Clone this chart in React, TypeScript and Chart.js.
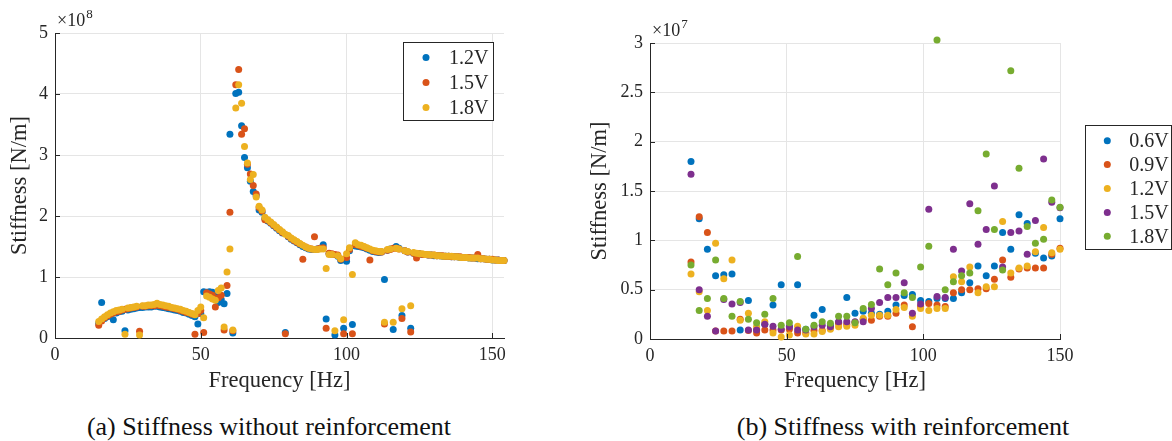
import React, { useEffect, useRef } from "react";
import { Chart, registerables } from "chart.js";

Chart.register(...registerables);

const FONT = '"Liberation Serif", "Times New Roman", serif';
const INK = "#262626";
const GRID = "#e5e5e5";

const C_BLUE = "#0072BD";
const C_RED = "#D95319";
const C_YELLOW = "#EDB120";
const C_PURPLE = "#7E2F8E";
const C_GREEN = "#77AC30";

// ---------------- (a) without reinforcement, stiffness in units of 1e8 N/m
const freqA = [
  15, 16, 17, 18, 19, 20, 21, 22, 23, 24, 25, 26, 27, 28, 29, 30, 31, 32, 33, 34,
  35, 36, 37, 38, 39, 40, 41, 42, 43, 44, 45, 46, 47, 48, 49, 50, 51, 52, 53, 54,
  55, 56, 57, 58, 59, 60, 61, 62, 63, 64, 65, 66, 67, 68, 69, 70, 71, 72, 73, 74,
  75, 76, 77, 78, 79, 80, 81, 82, 83, 84, 85, 86, 87, 88, 89, 90, 91, 92, 93, 94,
  95, 96, 97, 98, 99, 100, 101, 102, 103, 104, 105, 106, 107, 108, 109, 110, 111, 112, 113, 114,
  115, 116, 117, 118, 119, 120, 121, 122, 123, 124, 125, 126, 127, 128, 129, 130, 131, 132, 133, 134,
  135, 136, 137, 138, 139, 140, 141, 142, 143, 144, 145, 146, 147, 148, 149, 150, 151, 152, 153, 154,
];

const stiffA_12V = [
  0.24, 0.58, 0.32, 0.35, 0.38, 0.30, 0.41, 0.43, 0.44, 0.12,
  0.46, 0.47, 0.48, 0.49, 0.50, 0.50, 0.51, 0.51, 0.51, 0.52,
  0.52, 0.51, 0.50, 0.49, 0.48, 0.47, 0.46, 0.45, 0.44, 0.42,
  0.41, 0.39, 0.37, 0.35, 0.23, 0.40, 0.76, 0.75, 0.76, 0.75,
  0.68, 0.58, 0.63, 0.56, 0.73, 3.34, 0.08, 4.01, 4.03, 3.48,
  2.96, 2.79, 2.57, 2.40, 2.33, 2.10, 2.06, 1.96, 1.92, 1.88,
  1.84, 1.80, 1.76, 1.72, 0.09, 1.66, 1.62, 1.59, 1.56, 1.53,
  1.50, 1.48, 1.46, 1.45, 1.45, 1.46, 1.47, 1.53, 0.31, 1.38,
  1.37, 0.05, 1.34, 1.27, 0.16, 1.26, 1.43, 0.22, 1.51, 1.50,
  1.49, 1.48, 1.46, 1.44, 1.42, 1.41, 1.40, 1.41, 0.96, 1.44,
  1.46, 0.14, 1.50, 1.47, 0.37, 1.43, 1.41, 0.16, 1.39, 1.38,
  1.38, 1.37, 1.37, 1.36, 1.36, 1.35, 1.35, 1.35, 1.34, 1.34,
  1.34, 1.33, 1.33, 1.33, 1.32, 1.32, 1.32, 1.31, 1.31, 1.31,
  1.30, 1.30, 1.30, 1.29, 1.29, 1.28, 1.28, 1.28, 1.27, 1.27,
];

const stiffA_15V = [
  0.21, 0.28, 0.33, 0.36, 0.39, 0.41, 0.43, 0.44, 0.46, 0.47,
  0.48, 0.49, 0.50, 0.51, 0.11, 0.52, 0.52, 0.53, 0.53, 0.53,
  0.54, 0.53, 0.52, 0.51, 0.50, 0.49, 0.48, 0.47, 0.45, 0.44,
  0.42, 0.41, 0.39, 0.06, 0.40, 0.45, 0.09, 0.74, 0.72, 0.70,
  0.51, 0.66, 0.70, 0.13, 0.86, 2.06, 0.12, 4.15, 4.40, 3.34,
  3.43, 2.85, 2.69, 2.50, 2.36, 2.14, 2.08, 1.94, 1.93, 1.89,
  1.85, 1.81, 1.77, 1.73, 0.07, 1.67, 1.63, 1.60, 1.57, 1.54,
  1.29, 1.49, 1.47, 1.46, 1.66, 1.46, 1.47, 1.48, 0.16, 1.39,
  1.38, 1.37, 1.36, 1.29, 0.07, 1.32, 1.45, 0.07, 1.53, 1.52,
  1.50, 1.49, 1.47, 1.28, 1.43, 1.42, 1.41, 1.41, 0.23, 1.44,
  1.45, 1.47, 1.47, 1.46, 0.32, 1.43, 1.41, 0.10, 1.39, 1.31,
  1.38, 1.37, 1.37, 1.36, 1.36, 1.36, 1.35, 1.35, 1.35, 1.34,
  1.34, 1.33, 1.33, 1.33, 1.33, 1.32, 1.32, 1.32, 1.31, 1.31,
  1.37, 1.30, 1.30, 1.29, 1.29, 1.29, 1.28, 1.28, 1.27, 1.27,
];

const stiffA_18V = [
  0.27, 0.31, 0.35, 0.38, 0.41, 0.43, 0.45, 0.46, 0.47, 0.06,
  0.49, 0.50, 0.51, 0.52, 0.05, 0.53, 0.53, 0.54, 0.54, 0.55,
  0.57, 0.55, 0.54, 0.53, 0.52, 0.50, 0.49, 0.48, 0.47, 0.45,
  0.44, 0.42, 0.40, 0.38, 0.45, 0.51, 0.33, 0.69, 0.67, 0.64,
  0.62, 0.78, 0.82, 0.18, 1.08, 1.46, 0.13, 3.77, 4.15, 3.85,
  3.14, 2.87, 2.60, 2.68, 2.31, 2.16, 2.10, 1.98, 1.94, 1.90,
  1.86, 1.82, 1.78, 1.74, 1.70, 1.68, 1.64, 1.61, 1.58, 1.55,
  1.52, 1.49, 1.47, 1.46, 1.45, 1.45, 1.46, 1.46, 1.14, 1.37,
  1.37, 0.12, 1.35, 1.30, 0.30, 1.38, 1.48, 1.04, 1.56, 1.53,
  1.52, 1.50, 1.48, 1.46, 1.44, 1.43, 1.42, 1.42, 0.26, 1.45,
  1.46, 0.26, 1.47, 1.46, 0.48, 1.43, 1.42, 0.53, 1.40, 1.39,
  1.38, 1.38, 1.37, 1.37, 1.36, 1.36, 1.35, 1.35, 1.34, 1.34,
  1.34, 1.34, 1.33, 1.33, 1.32, 1.32, 1.32, 1.31, 1.31, 1.31,
  1.31, 1.30, 1.30, 1.29, 1.29, 1.28, 1.28, 1.27, 1.27, 1.27,
];

const seriesA = [
  { label: "1.2V", color: C_BLUE, values: stiffA_12V },
  { label: "1.5V", color: C_RED, values: stiffA_15V },
  { label: "1.8V", color: C_YELLOW, values: stiffA_18V },
];

// ---------------- (b) with reinforcement, stiffness in units of 1e7 N/m
const freqB = [
  15, 18, 21, 24, 27, 30, 33, 36, 39, 42, 45, 48, 51, 54, 57, 60, 63, 66, 69, 72,
  75, 78, 81, 84, 87, 90, 93, 96, 99, 102, 105, 108, 111, 114, 117, 120, 123, 126, 129, 132,
  135, 138, 141, 144, 147, 150,
];

const stiffB_06V = [
  1.80, 1.22, 0.91, 0.64, 0.65, 0.66, 0.09, 0.39, 0.09, 0.15,
  0.345, 0.55, 0.125, 0.55, 0.10, 0.24, 0.30, 0.14, 0.17, 0.42,
  0.26, 0.28, 0.26, 0.25, 0.28, 0.345, 0.44, 0.45, 0.39, 0.38,
  0.41, 0.41, 0.41, 0.47, 0.57, 0.74, 0.64, 0.74, 1.08, 0.91,
  1.26, 1.17, 0.87, 0.82, 0.84, 1.22,
];

const stiffB_09V = [
  0.78, 1.24, 1.08, 0.08, 0.08, 0.08, 0.20, 0.085, 0.06, 0.09,
  0.09, 0.09, 0.10, 0.06, 0.06, 0.085, 0.085, 0.11, 0.16, 0.15,
  0.17, 0.20, 0.19, 0.23, 0.23, 0.26, 0.345, 0.125, 0.33, 0.36,
  0.345, 0.33, 0.47, 0.50, 0.50, 0.51, 0.51, 0.605, 0.80, 0.625,
  0.71, 0.72, 0.72, 0.72, 0.86, 0.92,
];

const stiffB_12V = [
  0.66, 0.48, 0.29, 0.97, 0.61, 0.80, 0.19, 0.26, 0.125, 0.175,
  0.06, 0.02, 0.04, 0.13, 0.05, 0.05, 0.075, 0.10, 0.125, 0.13,
  0.14, 0.21, 0.24, 0.24, 0.24, 0.30, 0.32, 0.23, 0.31, 0.29,
  0.31, 0.31, 0.63, 0.58, 0.73, 0.47, 0.53, 0.53, 1.19, 0.67,
  0.72, 0.74, 0.885, 1.13, 0.875, 0.91,
];

const stiffB_15V = [
  1.67, 0.50, 0.23, 0.08, 0.40, 0.355, 0.37, 0.09, 0.09, 0.15,
  0.13, 0.10, 0.125, 0.09, 0.09, 0.125, 0.14, 0.125, 0.175, 0.175,
  0.175, 0.175, 0.31, 0.37, 0.42, 0.42, 0.57, 0.26, 0.355, 1.315,
  0.43, 0.42, 0.91, 0.69, 1.37, 0.96, 1.11, 1.55, 0.73, 1.08,
  1.095, 0.86, 1.20, 1.825, 1.385, 1.33,
];

const stiffB_18V = [
  0.75, 0.29, 0.41, 0.80, 0.41, 0.23, 0.38, 0.20, 0.165, 0.25,
  0.41, 0.14, 0.165, 0.835, 0.10, 0.14, 0.175, 0.16, 0.23, 0.23,
  0.165, 0.31, 0.35, 0.71, 0.55, 0.67, 0.47, 0.42, 0.73, 0.94,
  3.03, 0.50, 0.58, 0.64, 0.67, 1.30, 1.876, 1.11, 0.70, 2.72,
  1.73, 1.14, 0.97, 1.01, 1.41, 1.335,
];

const seriesB = [
  { label: "0.6V", color: C_BLUE, values: stiffB_06V },
  { label: "0.9V", color: C_RED, values: stiffB_09V },
  { label: "1.2V", color: C_YELLOW, values: stiffB_12V },
  { label: "1.5V", color: C_PURPLE, values: stiffB_15V },
  { label: "1.8V", color: C_GREEN, values: stiffB_18V },
];

type Series = { label: string; color: string; values: number[] };
type Box = { left: number; top: number; right: number; bottom: number };
type LegendBox = Box & { dotX: number; textX: number; rowY: number; rowStep: number };

type PanelProps = {
  left: number;
  width: number;
  height: number;
  freq: number[];
  series: Series[];
  xMax: number;
  yMax: number;
  yStep: number;
  exponent: string;
  area: Box;
  legend: LegendBox;
};

function Panel(p: PanelProps) {
  const ref = useRef<HTMLCanvasElement | null>(null);

  useEffect(() => {
    const canvas = ref.current;
    if (!canvas) return;

    const decor = {
      id: "decor",
      afterDraw(chart: any) {
        const ctx = chart.ctx;
        const ca = chart.chartArea;
        const xs = chart.scales.x;
        const ys = chart.scales.y;
        ctx.save();
        // inward tick marks
        ctx.strokeStyle = INK;
        ctx.lineWidth = 1;
        xs.ticks.forEach((t: any) => {
          const px = Math.round(xs.getPixelForValue(t.value)) + 0.5;
          ctx.beginPath();
          ctx.moveTo(px, ca.bottom);
          ctx.lineTo(px, ca.bottom - 5);
          ctx.stroke();
        });
        ys.ticks.forEach((t: any) => {
          const py = Math.round(ys.getPixelForValue(t.value)) + 0.5;
          ctx.beginPath();
          ctx.moveTo(ca.left, py);
          ctx.lineTo(ca.left + 5, py);
          ctx.stroke();
        });
        // exponent label
        ctx.fillStyle = INK;
        ctx.textAlign = "left";
        ctx.textBaseline = "alphabetic";
        ctx.font = `18px ${FONT}`;
        const base = ca.top - 7;
        ctx.fillText("\u00d710", ca.left + 2, base);
        const w = ctx.measureText("\u00d710").width;
        ctx.font = `13px ${FONT}`;
        ctx.fillText(p.exponent, ca.left + 2 + w + 1, base - 8);
        // legend
        const L = p.legend;
        ctx.fillStyle = "#ffffff";
        ctx.fillRect(L.left, L.top, L.right - L.left, L.bottom - L.top);
        ctx.strokeStyle = INK;
        ctx.lineWidth = 1;
        ctx.strokeRect(L.left + 0.5, L.top + 0.5, L.right - L.left - 1, L.bottom - L.top - 1);
        ctx.font = `20px ${FONT}`;
        ctx.textBaseline = "middle";
        p.series.forEach((s, i) => {
          const y = L.rowY + i * L.rowStep;
          ctx.fillStyle = s.color;
          ctx.beginPath();
          ctx.arc(L.dotX, y, 3.5, 0, Math.PI * 2);
          ctx.fill();
          ctx.fillStyle = INK;
          ctx.fillText(s.label, L.textX, y + 1);
        });
        ctx.restore();
      },
    };

    const n = p.series.length;
    const chart = new Chart(canvas, {
      type: "scatter",
      data: {
        datasets: p.series.map((s, i) => ({
          label: s.label,
          data: p.freq.map((f, j) => ({ x: f, y: s.values[j] })),
          backgroundColor: s.color,
          borderWidth: 0,
          pointRadius: 3.5,
          pointHoverRadius: 3.5,
          clip: false as any,
          order: n - i,
        })),
      },
      options: {
        responsive: false,
        animation: false,
        events: [],
        layout: {
          autoPadding: false,
          padding: { left: 0, top: p.area.top, right: p.width - p.area.right, bottom: 0 },
        },
        plugins: { legend: { display: false }, tooltip: { enabled: false } },
        scales: {
          x: {
            type: "linear",
            min: 0,
            max: p.xMax,
            afterFit: (s: any) => {
              s.height = p.height - p.area.bottom;
            },
            grid: { color: GRID, lineWidth: 1, drawTicks: false },
            border: { display: true, color: INK, width: 1 },
            ticks: {
              stepSize: 50,
              includeBounds: false,
              maxRotation: 0,
              color: INK,
              padding: 6,
              font: { family: FONT, size: 18 },
            },
            title: {
              display: true,
              text: "Frequency [Hz]",
              color: INK,
              font: { family: FONT, size: 22.5 },
              padding: { top: 0, bottom: 5 },
            },
          },
          y: {
            type: "linear",
            min: 0,
            max: p.yMax,
            afterFit: (s: any) => {
              s.width = p.area.left;
            },
            grid: { color: GRID, lineWidth: 1, drawTicks: false },
            border: { display: true, color: INK, width: 1 },
            ticks: {
              stepSize: p.yStep,
              includeBounds: false,
              color: INK,
              padding: 7,
              font: { family: FONT, size: 18 },
              callback: (v: any) => String(Math.round(Number(v) * 100) / 100),
            },
            title: {
              display: true,
              text: "Stiffness [N/m]",
              color: INK,
              font: { family: FONT, size: 22.5 },
              padding: { top: 7, bottom: 0 },
            },
          },
        },
      } as any,
      plugins: [decor],
    } as any);

    return () => chart.destroy();
  }, []);

  return (
    <canvas
      ref={ref}
      width={p.width}
      height={p.height}
      style={{ position: "absolute", left: p.left, top: 0, width: p.width, height: p.height }}
    />
  );
}

function captionStyle(cx: number): React.CSSProperties {
  return {
    position: "absolute",
    left: cx - 300,
    top: 412,
    width: 600,
    height: 30,
    lineHeight: "30px",
    textAlign: "center",
    fontFamily: FONT,
    fontSize: 26,
    color: "#111",
    whiteSpace: "nowrap",
  };
}

export default function App() {
  return (
    <div
      style={{
        position: "absolute",
        left: 0,
        top: 0,
        width: 1172,
        height: 441,
        background: "#ffffff",
        overflow: "hidden",
      }}
    >
      <Panel
        left={0}
        width={560}
        height={400}
        freq={freqA}
        series={seriesA}
        xMax={154}
        yMax={5}
        yStep={1}
        exponent="8"
        area={{ left: 55, top: 33, right: 504, bottom: 338 }}
        legend={{ left: 403, top: 42, right: 494, bottom: 121, dotX: 426, textX: 449, rowY: 57.5, rowStep: 25 }}
      />
      <Panel
        left={580}
        width={592}
        height={400}
        freq={freqB}
        series={seriesB}
        xMax={150}
        yMax={3}
        yStep={0.5}
        exponent="7"
        area={{ left: 70, top: 43, right: 480, bottom: 339 }}
        legend={{ left: 505, top: 125, right: 592, bottom: 250, dotX: 527.3, textX: 549.3, rowY: 140.7, rowStep: 23.9 }}
      />
      <div style={captionStyle(269)}>(a) Stiffness without reinforcement</div>
      <div style={captionStyle(903)}>(b) Stiffness with reinforcement</div>
    </div>
  );
}
